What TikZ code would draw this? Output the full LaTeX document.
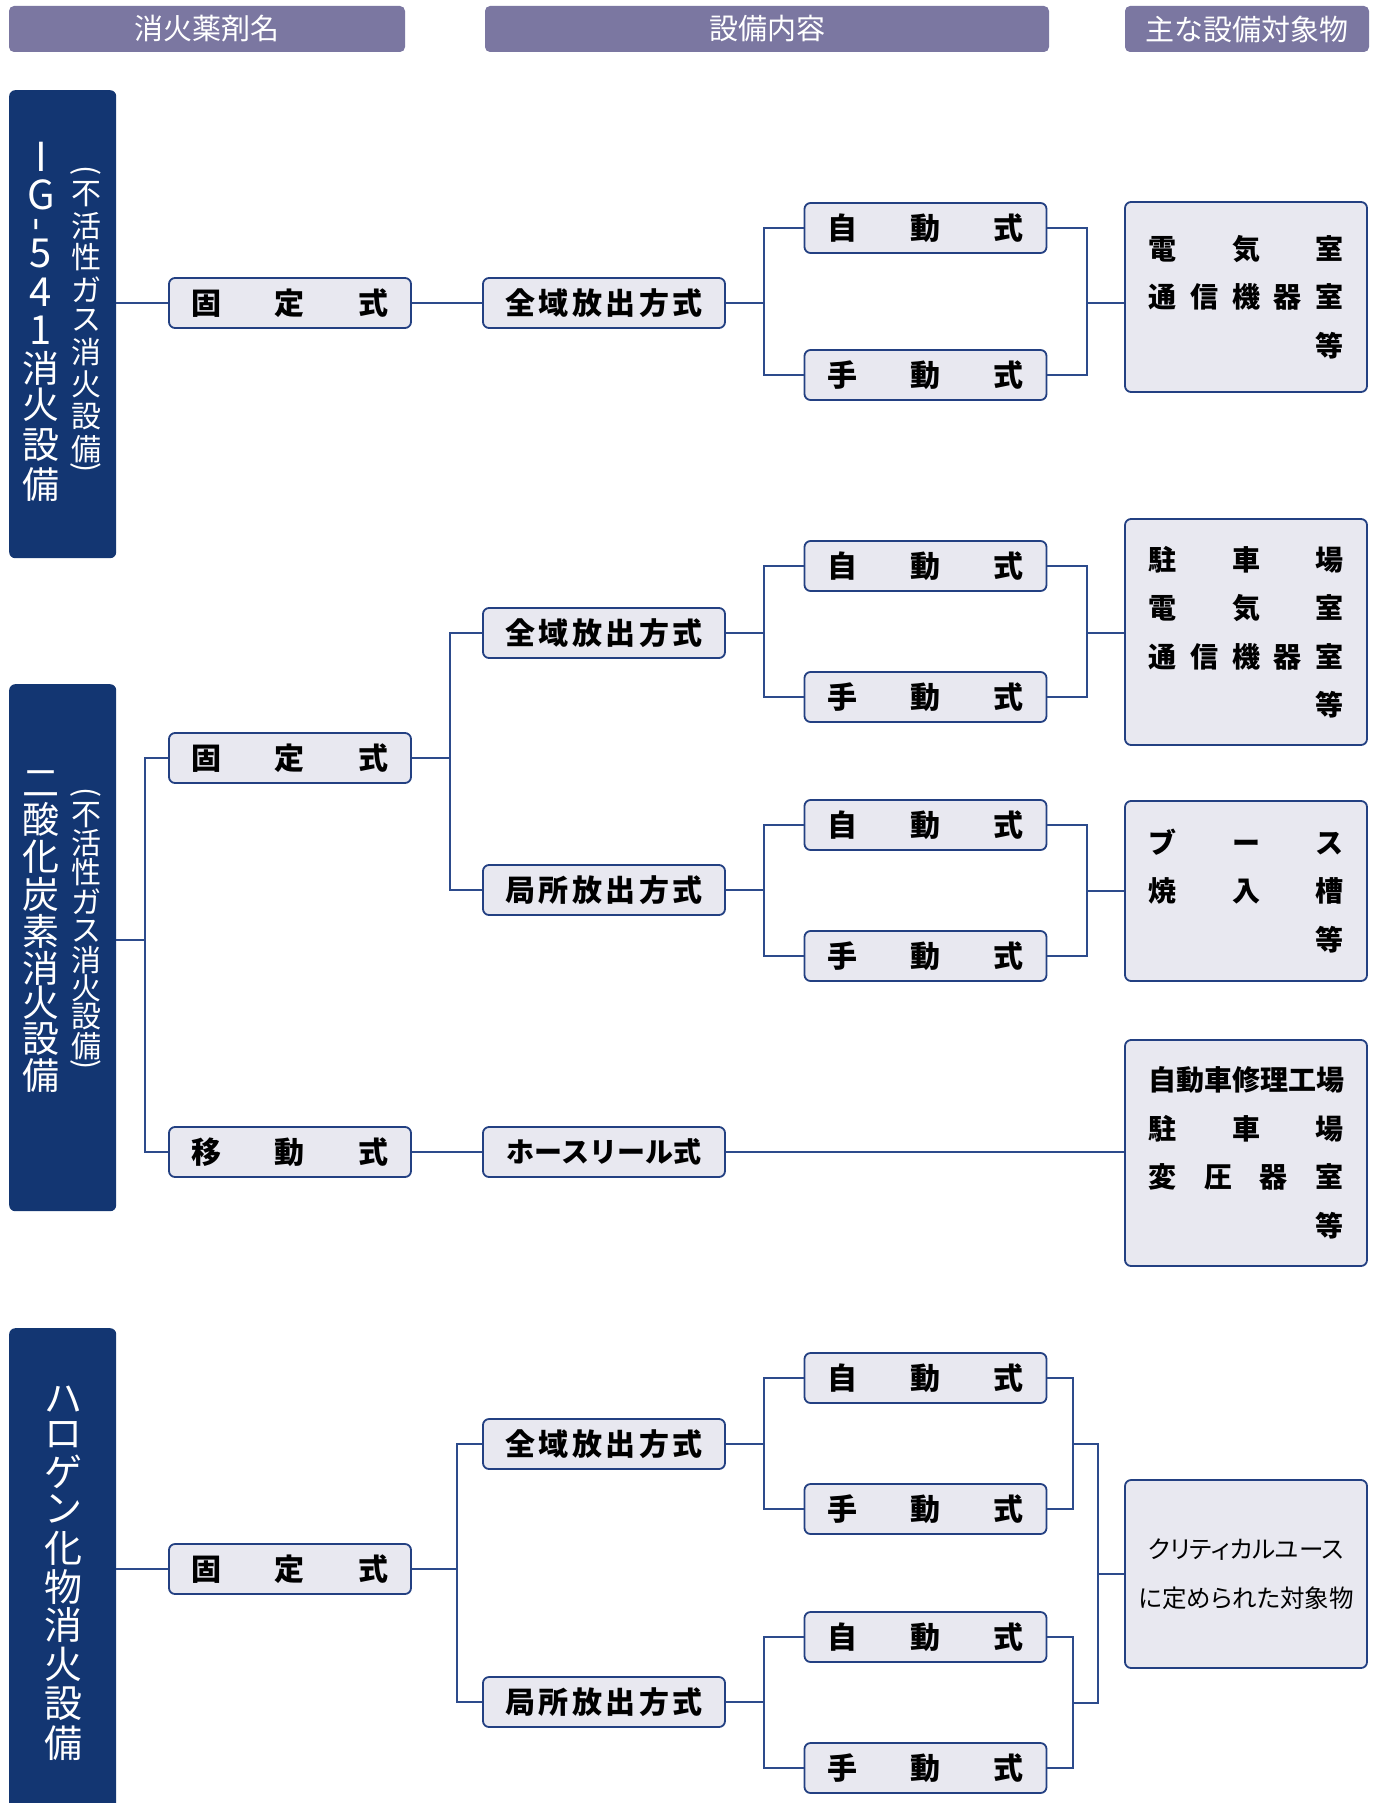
\documentclass[tikz,border=0pt]{standalone}
\usepackage{fontspec}
\usepackage{graphicx}
\newfontfamily\jp{Noto Sans CJK JP}
\newfontfamily\jpp[RawFeature=+palt]{Noto Sans CJK JP}
\definecolor{hdr}{RGB}{123,119,161}
\definecolor{navy}{RGB}{19,54,114}
\definecolor{nodefill}{RGB}{232,232,240}
\definecolor{bord}{RGB}{35,64,130}
\definecolor{lin}{RGB}{45,75,140}
\newcommand\sps[1]{\makebox[197pt][s]{#1}}
\newcommand\spt[1]{\makebox[195pt][s]{#1}}
\newcommand\lat[1]{{\fontsize{40}{40}\selectfont #1}}
\newcommand\opn{\rotatebox[origin=c]{-90}{(}}
\newcommand\cls{\rotatebox[origin=c]{-90}{)}}
\tikzset{
 hdrbox/.style={fill=hdr, rounded corners=5pt, draw=none, text=white, inner sep=0pt, minimum height=46pt, font=\jp\fontsize{29}{32}\selectfont},
 lbox/.style={fill=navy, rounded corners=6pt, draw=none, anchor=north west, minimum width=107pt, inner sep=0pt},
 sbox/.style={fill=nodefill, draw=bord, line width=1.8pt, rounded corners=6pt, minimum width=242pt, minimum height=50pt, inner sep=0pt, font=\jp\bfseries\fontsize{30}{32}\selectfont},
 tbox/.style={fill=nodefill, draw=bord, line width=1.8pt, rounded corners=6pt, minimum width=242pt, inner sep=0pt, align=center, font=\jp\bfseries\fontsize{28}{48.5}\selectfont},
 conn/.style={draw=lin, line width=1.6pt},
 vch/.style={text=white, inner sep=0pt, font=\jp\fontsize{37}{37}\selectfont},
 vbig/.style={text=white, inner sep=0pt, font=\jp\fontsize{38}{38}\selectfont},
 vsm/.style={text=white, inner sep=0pt, font=\jp\fontsize{30}{30}\selectfont},
}
\begin{document}
\begin{tikzpicture}[x=1pt,y=-1pt]
\clip (0,0) rectangle (1378,1803);
\useasboundingbox (0,0) rectangle (1378,1803);

% headers
\node[hdrbox, minimum width=396pt] (H1) at (207,29) {消火薬剤名};
\node[hdrbox, minimum width=564pt] (H2) at (767,29) {設備内容};
\node[hdrbox, minimum width=244pt] (H3) at (1247,29) {主な設備対象物};

% left boxes
\node[lbox, minimum height=468pt] (L1) at (9,90) {};
\node[lbox, minimum height=527pt] (L2) at (9,684) {};
\node[lbox, minimum height=520pt] (L3) at (9,1328) {};

% vertical texts
\foreach \c/\y [count=\i] in {\lat{I}/157, \lat{G}/195, \lat{\rotatebox[origin=c]{90}{-}}/225, \lat{5}/253, \lat{4}/292, \lat{1}/330, 消/368, 火/405, 設/445, 備/485}
  \node[vch] (va\i) at (41,\y) {\c};
\foreach \c/\y [count=\i] in {\opn/173, 不/194, 活/226, 性/257, ガ/290, ス/320, 消/352, 火/384, 設/417, 備/449, \cls/470}
  \node[vsm] (vb\i) at (86,\y) {\c};
\foreach \c/\y [count=\i] in {二/784, 酸/819, 化/857, 炭/894, 素/931, 消/968, 火/1003, 設/1039, 備/1076}
  \node[vch] (vc\i) at (41,\y) {\c};
\foreach \c/\y [count=\i] in {\opn/795, 不/815, 活/843, 性/872, ガ/902, ス/931, 消/960, 火/988, 設/1017, 備/1046, \cls/1067}
  \node[vsm] (vd\i) at (86,\y) {\c};
\foreach \c/\y [count=\i] in {ハ/1399, ロ/1435, ゲ/1472, ン/1509, 化/1548, 物/1587, 消/1625, 火/1664, 設/1704, 備/1743}
  \node[vbig] (ve\i) at (63,\y) {\c};

% section 1
\node[sbox] (k1) at (290,303) {\sps{固\hfill 定\hfill 式}};
\node[sbox] (zen1) at (604,303) {\sps{全\hfill 域\hfill 放\hfill 出\hfill 方\hfill 式}};
\node[sbox] (jido1) at (925.5,228) {\sps{自\hfill 動\hfill 式}};
\node[sbox] (shu1) at (925.5,375) {\sps{手\hfill 動\hfill 式}};
\node[tbox, minimum height=190pt] (tgt1) at (1246,297) {\spt{電\hfill 気\hfill 室}\\\spt{通\hfill 信\hfill 機\hfill 器\hfill 室}\\\spt{\hfill 等}};

% section 2
\node[sbox] (k2) at (290,758) {\sps{固\hfill 定\hfill 式}};
\node[sbox] (idou) at (290,1152) {\sps{移\hfill 動\hfill 式}};
\node[sbox] (zen2) at (604,633) {\sps{全\hfill 域\hfill 放\hfill 出\hfill 方\hfill 式}};
\node[sbox] (kyo2) at (604,890) {\sps{局\hfill 所\hfill 放\hfill 出\hfill 方\hfill 式}};
\node[sbox] (jido2a) at (925.5,566) {\sps{自\hfill 動\hfill 式}};
\node[sbox] (shu2a) at (925.5,697) {\sps{手\hfill 動\hfill 式}};
\node[sbox] (jido2b) at (925.5,825) {\sps{自\hfill 動\hfill 式}};
\node[sbox] (shu2b) at (925.5,956) {\sps{手\hfill 動\hfill 式}};
\node[sbox, font=\jp\bfseries\fontsize{28}{30}\selectfont] (hose) at (604,1152) {ホースリール式};
\node[tbox, minimum height=226pt] (tgt2) at (1246,632) {\spt{駐\hfill 車\hfill 場}\\\spt{電\hfill 気\hfill 室}\\\spt{通\hfill 信\hfill 機\hfill 器\hfill 室}\\\spt{\hfill 等}};
\node[tbox, minimum height=180pt] (tgt3) at (1246,891) {\spt{ブ\hfill ー\hfill ス}\\\spt{焼\hfill 入\hfill 槽}\\\spt{\hfill 等}};
\node[tbox, minimum height=226pt] (tgt4) at (1246,1153) {\spt{自\hfill 動\hfill 車\hfill 修\hfill 理\hfill 工\hfill 場}\\\spt{駐\hfill 車\hfill 場}\\\spt{変\hfill 圧\hfill 器\hfill 室}\\\spt{\hfill 等}};

% section 3
\node[sbox] (k3) at (290,1569) {\sps{固\hfill 定\hfill 式}};
\node[sbox] (zen3) at (604,1444) {\sps{全\hfill 域\hfill 放\hfill 出\hfill 方\hfill 式}};
\node[sbox] (kyo3) at (604,1702) {\sps{局\hfill 所\hfill 放\hfill 出\hfill 方\hfill 式}};
\node[sbox] (jido3a) at (925.5,1378) {\sps{自\hfill 動\hfill 式}};
\node[sbox] (shu3a) at (925.5,1509) {\sps{手\hfill 動\hfill 式}};
\node[sbox] (jido3b) at (925.5,1637) {\sps{自\hfill 動\hfill 式}};
\node[sbox] (shu3b) at (925.5,1768) {\sps{手\hfill 動\hfill 式}};
\node[tbox, minimum height=188pt, font=\jpp\fontsize{24.5}{49}\selectfont] (tgt5) at (1246,1574) {クリティカルユース\\に定められた対象物};

% connectors section 1
\draw[conn] (L1.east |- k1.west) -- (k1.west);
\draw[conn] (k1.east) -- (zen1.west);
\coordinate (b1) at (764,303);
\draw[conn] (zen1.east) -- (b1);
\draw[conn] (b1) |- (jido1.west);
\draw[conn] (b1) |- (shu1.west);
\coordinate (j1) at (1087,303);
\draw[conn] (jido1.east) -| (j1);
\draw[conn] (shu1.east) -| (j1);
\draw[conn] (j1) -- (j1 -| tgt1.west);

% connectors section 2
\coordinate (b2) at (145,940);
\draw[conn] (L2.east |- b2) -- (b2);
\draw[conn] (b2) |- (k2.west);
\draw[conn] (b2) |- (idou.west);
\coordinate (b3) at (450,758);
\draw[conn] (k2.east) -- (b3);
\draw[conn] (b3) |- (zen2.west);
\draw[conn] (b3) |- (kyo2.west);
\coordinate (b4) at (764,633);
\draw[conn] (zen2.east) -- (b4);
\draw[conn] (b4) |- (jido2a.west);
\draw[conn] (b4) |- (shu2a.west);
\coordinate (b5) at (764,890);
\draw[conn] (kyo2.east) -- (b5);
\draw[conn] (b5) |- (jido2b.west);
\draw[conn] (b5) |- (shu2b.west);
\coordinate (j2) at (1087,633);
\draw[conn] (jido2a.east) -| (j2);
\draw[conn] (shu2a.east) -| (j2);
\draw[conn] (j2) -- (j2 -| tgt2.west);
\coordinate (j3) at (1087,891);
\draw[conn] (jido2b.east) -| (j3);
\draw[conn] (shu2b.east) -| (j3);
\draw[conn] (j3) -- (j3 -| tgt3.west);
\draw[conn] (idou.east) -- (hose.west);
\draw[conn] (hose.east) -- (hose.east -| tgt4.west);

% connectors section 3
\draw[conn] (L3.east |- k3.west) -- (k3.west);
\coordinate (b6) at (457,1569);
\draw[conn] (k3.east) -- (b6);
\draw[conn] (b6) |- (zen3.west);
\draw[conn] (b6) |- (kyo3.west);
\coordinate (b7) at (764,1444);
\draw[conn] (zen3.east) -- (b7);
\draw[conn] (b7) |- (jido3a.west);
\draw[conn] (b7) |- (shu3a.west);
\coordinate (b8) at (764,1702);
\draw[conn] (kyo3.east) -- (b8);
\draw[conn] (b8) |- (jido3b.west);
\draw[conn] (b8) |- (shu3b.west);
\coordinate (j5) at (1073,1444);
\draw[conn] (jido3a.east) -| (j5);
\draw[conn] (shu3a.east) -| (j5);
\coordinate (j6) at (1073,1703);
\draw[conn] (jido3b.east) -| (j6);
\draw[conn] (shu3b.east) -| (j6);
\coordinate (j7) at (1098,1574);
\draw[conn] (j5) -| (j7);
\draw[conn] (j6) -| (j7);
\draw[conn] (j7) -- (j7 -| tgt5.west);
\end{tikzpicture}
\end{document}
